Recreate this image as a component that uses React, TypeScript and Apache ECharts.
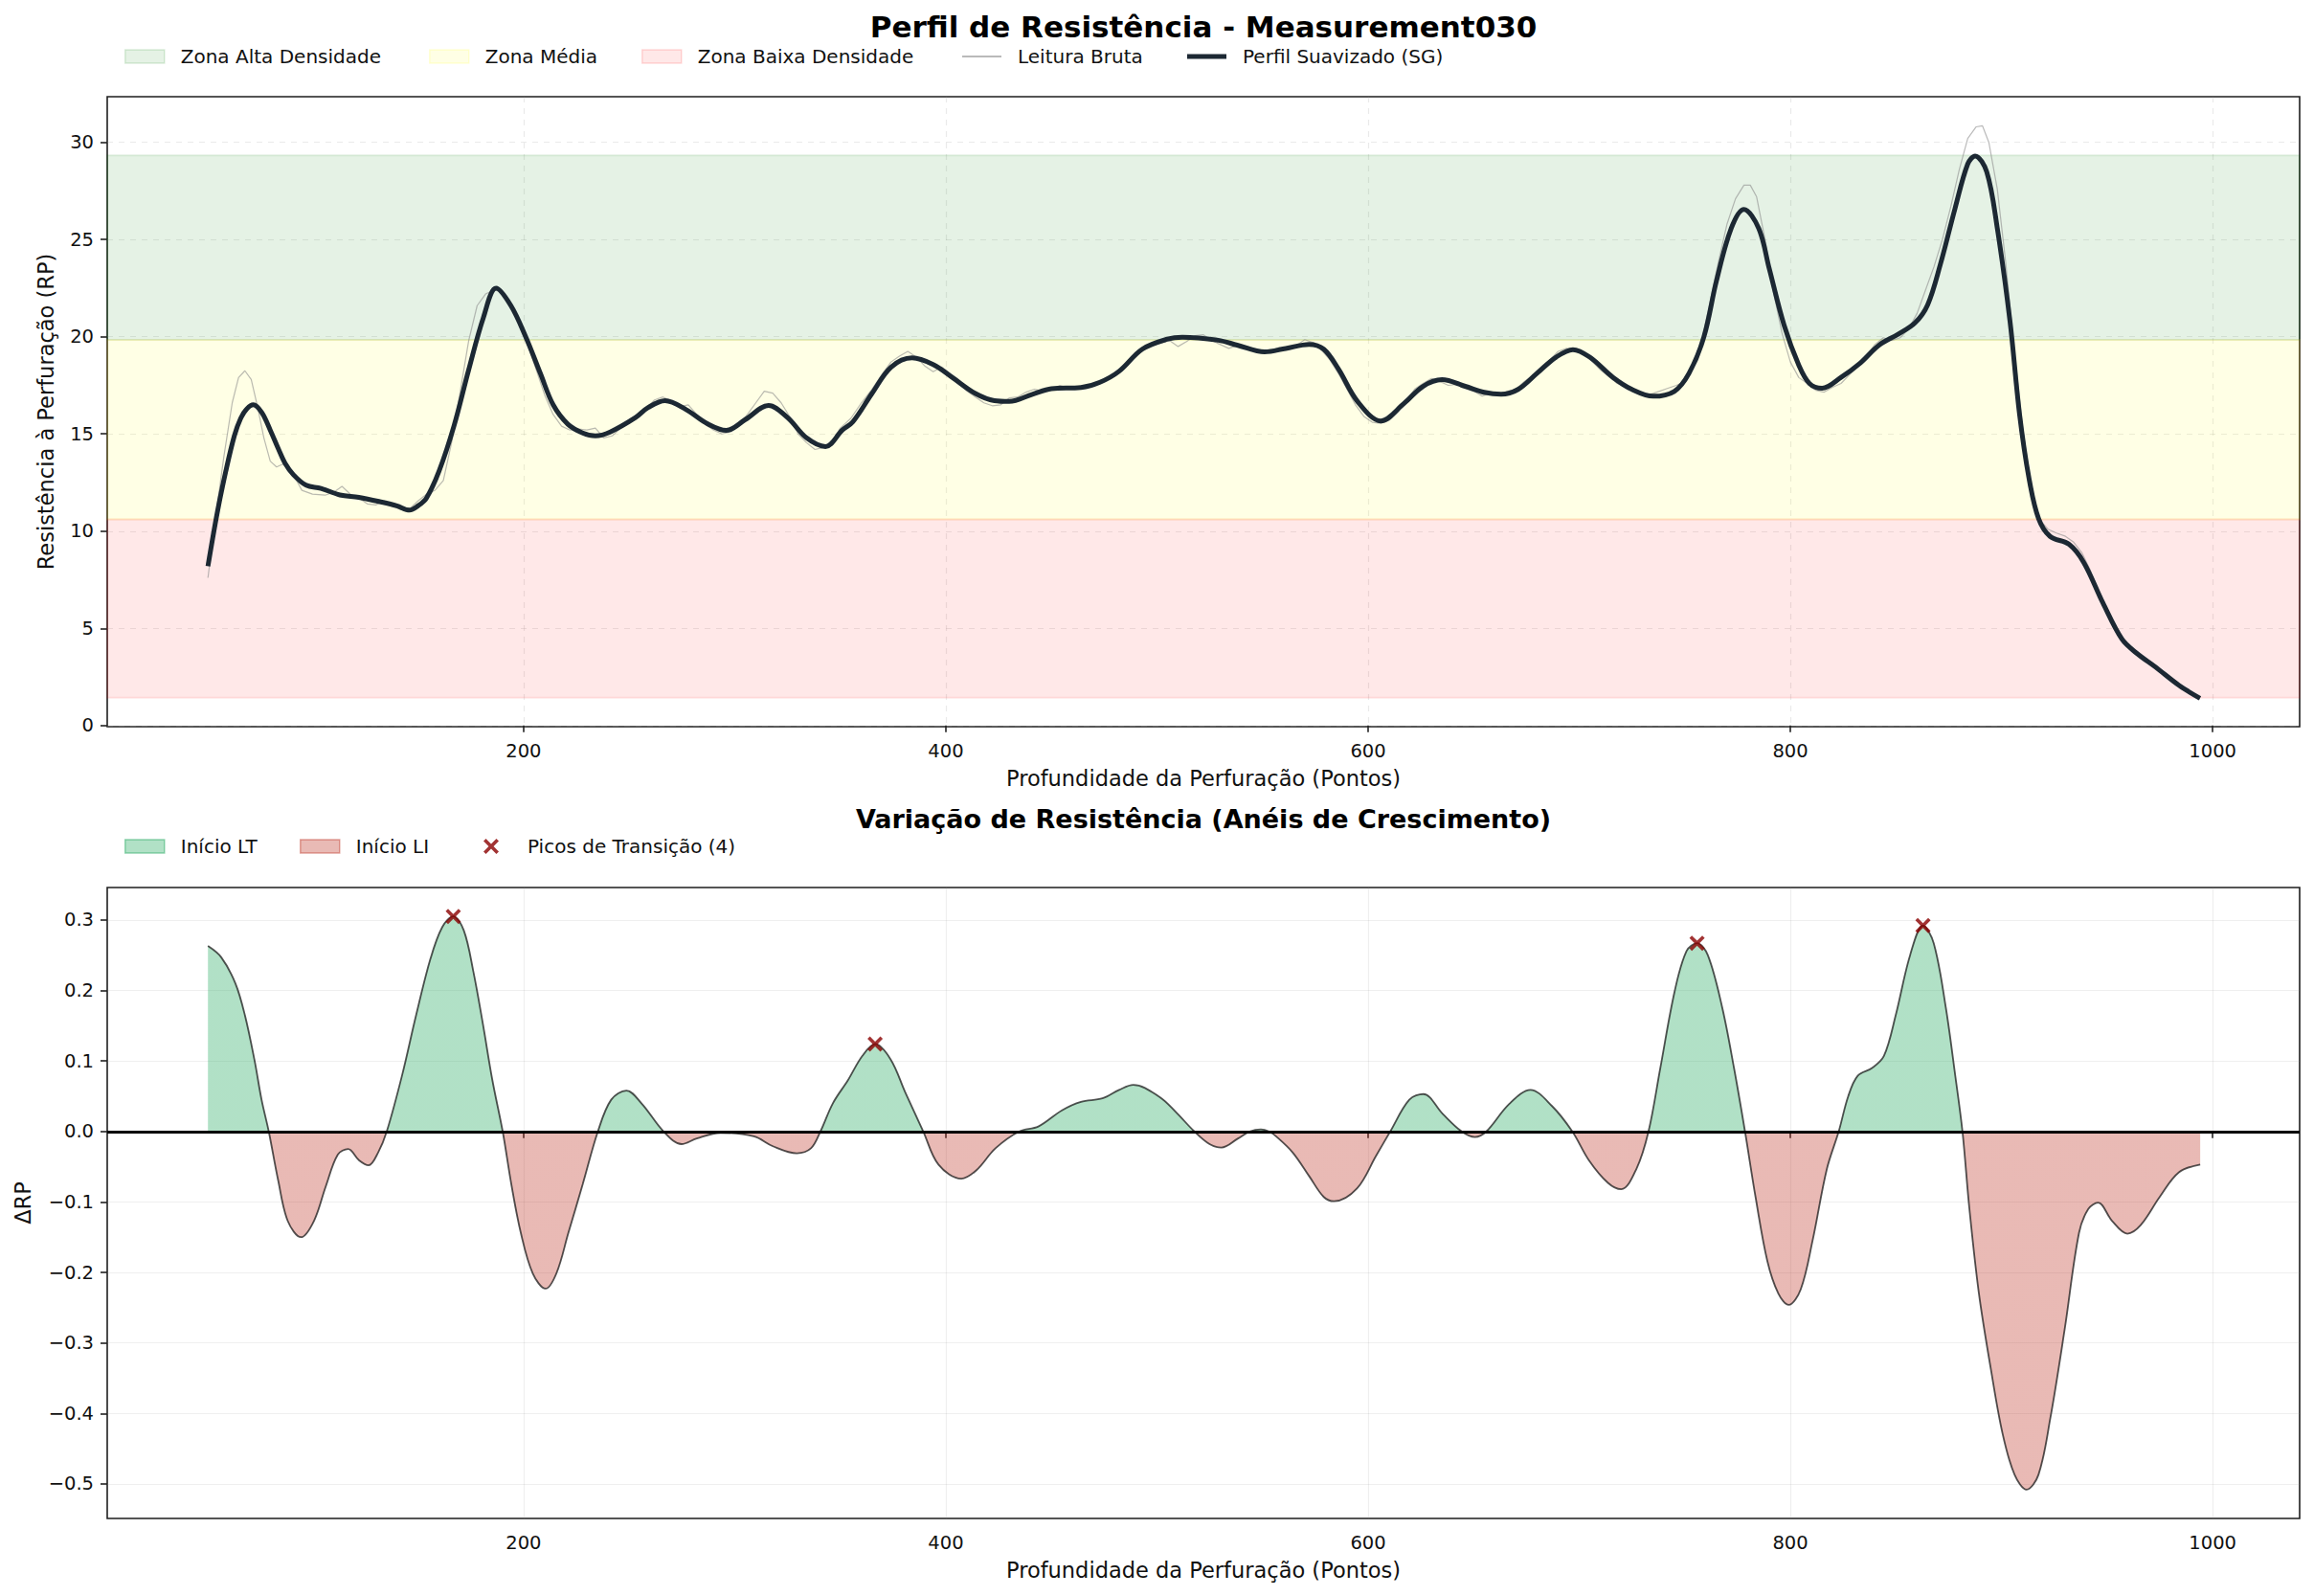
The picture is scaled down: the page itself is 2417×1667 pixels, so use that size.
import React, { useEffect, useRef } from "react";
import * as echarts from "echarts";

const FONT = "DejaVu Sans";

// ---------- data ----------
const profileX = [50.5, 55, 59, 63, 66, 69, 72, 76, 80, 84, 87, 91, 97, 104, 113, 122, 133, 140, 146, 150, 154, 160, 167, 174, 181, 187, 194, 201, 208, 214, 221, 228, 234, 241, 253, 259, 267, 277, 287, 296, 305, 316, 325, 334, 343, 351, 356, 365, 374, 384, 394, 403, 414, 423, 430, 441, 450, 464, 473, 482, 493, 505, 512, 529, 538, 551, 561, 572, 579, 586, 595, 606, 617, 626, 635, 646, 655, 663, 671, 680, 689, 697, 705, 716, 725, 735, 745, 752, 759, 765, 772, 778, 785, 790, 797, 804, 809, 815, 824, 833, 842, 851, 859, 865, 871, 878, 884, 887.5, 893, 898, 904, 908.5, 913, 917.5, 923, 932, 939, 948, 957, 964, 973, 984, 994];
const profileY = [8.2, 11.0, 13.1, 14.9, 15.8, 16.3, 16.5, 16.1, 15.2, 14.2, 13.5, 12.9, 12.36, 12.2, 11.86, 11.74, 11.49, 11.3, 11.08, 11.3, 11.7, 13.1, 15.4, 18.3, 21.0, 22.5, 21.6, 20.0, 18.1, 16.5, 15.5, 15.05, 14.9, 15.1, 15.84, 16.36, 16.71, 16.25, 15.53, 15.18, 15.74, 16.46, 15.84, 14.8, 14.35, 15.2, 15.63, 17.08, 18.43, 18.91, 18.57, 17.91, 17.08, 16.71, 16.67, 17.04, 17.33, 17.39, 17.66, 18.22, 19.36, 19.88, 19.98, 19.82, 19.57, 19.22, 19.4, 19.61, 19.36, 18.33, 16.67, 15.67, 16.57, 17.45, 17.79, 17.45, 17.14, 17.04, 17.29, 18.12, 18.95, 19.34, 18.95, 17.91, 17.29, 16.94, 17.19, 18.12, 19.98, 22.88, 25.58, 26.55, 25.58, 23.5, 20.6, 18.53, 17.6, 17.35, 17.91, 18.64, 19.57, 20.13, 20.71, 21.64, 23.71, 26.61, 28.89, 29.3, 28.48, 25.58, 20.81, 16.05, 12.73, 10.66, 9.73, 9.32, 8.38, 6.31, 4.45, 3.72, 3.0, 2.07, 1.4];

const rawX = [50.5, 54, 58, 62, 65, 68, 71, 74, 77, 80, 83, 86, 89, 92, 95, 100, 106, 110, 114, 118, 122, 126, 130, 134, 138, 142, 146, 150, 154, 158, 162, 166, 170, 174, 178, 182, 186, 190, 194, 198, 202, 206, 210, 214, 218, 222, 226, 230, 234, 238, 242, 246, 250, 254, 258, 262, 266, 270, 274, 278, 282, 286, 290, 294, 298, 302, 306, 310, 314, 318, 322, 326, 330, 334, 338, 342, 346, 350, 355, 360, 365, 370, 374, 378, 382, 386, 390, 394, 398, 402, 406, 410, 414, 418, 422, 426, 430, 434, 438, 442, 446, 450, 454, 458, 462, 466, 470, 474, 478, 482, 486, 490, 494, 498, 502, 506, 510, 514, 518, 522, 526, 530, 534, 538, 542, 546, 550, 554, 558, 562, 566, 570, 574, 578, 582, 586, 590, 594, 598, 602, 606, 610, 614, 618, 622, 626, 630, 634, 638, 642, 646, 650, 654, 658, 662, 666, 670, 674, 678, 682, 686, 690, 694, 698, 702, 706, 710, 714, 718, 722, 726, 730, 734, 738, 742, 746, 750, 754, 758, 762, 766, 770, 774, 778, 781, 784, 788, 792, 796, 800, 804, 808, 812, 816, 820, 824, 828, 832, 836, 840, 844, 848, 852, 856, 860, 864, 868, 872, 876, 880, 884, 888, 891, 894, 898, 902, 906, 910, 914, 918, 922, 926, 930, 934, 938, 942, 946, 950, 954, 958, 962, 966, 970, 974, 978, 982, 986, 990, 994];
const rawY = [7.6, 10.6, 13.8, 16.6, 17.9, 18.25, 17.8, 16.4, 14.8, 13.6, 13.3, 13.45, 13.2, 12.7, 12.1, 11.9, 11.85, 12.0, 12.3, 11.9, 11.7, 11.4, 11.35, 11.55, 11.3, 11.1, 11.15, 11.55, 11.9, 12.1, 12.6, 14.6, 17.2, 19.8, 21.6, 22.2, 22.4, 22.3, 21.7, 20.6, 19.6, 18.3, 17.0, 16.0, 15.4, 15.2, 15.25, 15.2, 15.3, 14.8, 14.9, 15.3, 15.6, 15.9, 16.3, 16.75, 16.9, 16.7, 16.4, 16.5, 16.0, 15.5, 15.2, 15.0, 15.1, 15.5, 16.0, 16.6, 17.2, 17.1, 16.6, 15.9, 15.0, 14.55, 14.2, 14.3, 14.6, 15.3, 15.8, 16.6, 17.3, 18.1, 18.7, 19.0, 19.25, 18.95, 18.5, 18.2, 18.45, 18.1, 17.6, 17.2, 16.9, 16.6, 16.45, 16.5, 16.85, 16.9, 17.15, 17.3, 17.2, 17.3, 17.5, 17.35, 17.4, 17.4, 17.5, 17.7, 17.9, 18.3, 18.7, 19.2, 19.45, 19.55, 19.7, 19.8, 19.5, 19.75, 20.05, 20.1, 19.8, 19.6, 19.4, 19.55, 19.45, 19.3, 19.15, 19.3, 19.45, 19.35, 19.55, 19.85, 19.7, 19.3, 18.8, 18.1, 17.3, 16.5, 15.9, 15.6, 15.55, 15.7, 16.2, 16.7, 17.3, 17.6, 17.85, 17.7, 17.5, 17.55, 17.35, 17.2, 16.95, 17.1, 17.05, 17.2, 17.3, 17.7, 18.0, 18.4, 18.8, 19.25, 19.4, 19.3, 19.1, 18.75, 18.3, 17.95, 17.6, 17.4, 17.2, 17.05, 17.05, 17.2, 17.35, 17.5, 17.7, 18.4, 19.8, 21.8, 23.9, 25.8, 27.1, 27.8, 27.8, 27.2, 25.0, 22.3, 20.2, 18.7, 17.9, 17.6, 17.25, 17.15, 17.4, 17.6, 18.05, 18.5, 19.0, 19.6, 19.95, 19.8, 19.95, 20.4, 21.2, 22.4, 23.6, 25.0, 26.7, 28.6, 30.2, 30.8, 30.85, 30.0, 27.6, 23.8, 19.3, 15.3, 12.3, 10.6, 10.1, 9.9, 9.75, 9.45, 8.9, 8.0, 6.9, 5.9, 5.0, 4.3, 3.85, 3.55, 3.3, 3.05, 2.6, 2.25, 1.95, 1.65, 1.35];

const deltaX = [50.5, 56.8, 63.5, 68, 72.5, 75.9, 79.3, 83.8, 88.3, 94.6, 100.7, 106.3, 112, 116.9, 122.1, 126.6, 131.1, 135.2, 142.4, 149.1, 155.9, 161.5, 166.7, 171.7, 176.2, 180.7, 185.2, 190.1, 194.2, 198.7, 204.3, 210.4, 215.6, 221.2, 228, 235.2, 241.5, 248.7, 256.1, 266.3, 274.8, 282, 293.3, 309.1, 318.1, 329.4, 336.1, 340.6, 346.5, 353.7, 360.4, 366.5, 373.9, 380.7, 389.3, 396.5, 407.3, 414.5, 423.5, 434.8, 443.8, 455, 464, 474.2, 482.1, 488.8, 501.2, 509.1, 517.7, 524.9, 530.5, 538.4, 544, 549.2, 553, 556.4, 564.3, 572.2, 579, 583.9, 594.7, 603.7, 610.5, 619.5, 626.2, 635.3, 644.3, 650.6, 656, 666.8, 676.9, 687.1, 696.7, 704.6, 713.6, 719.9, 727.1, 732.8, 738.4, 745.2, 750.8, 755.8, 760.9, 767.7, 773.3, 778.5, 783.5, 789.1, 794.3, 799.2, 804.9, 810.5, 817.3, 822.9, 827.4, 831.9, 838.7, 844.3, 849.9, 856.7, 862.8, 867.9, 873.6, 878.1, 881.5, 884.8, 889.3, 895, 900.6, 906.2, 911.9, 917.5, 923.1, 929.9, 936.7, 941.1, 945.7, 952.4, 959.6, 965.9, 974.9, 984, 994.1];
const deltaY = [0.263, 0.247, 0.21, 0.165, 0.102, 0.045, 0, -0.07, -0.127, -0.15, -0.127, -0.078, -0.033, -0.025, -0.041, -0.048, -0.03, 0, 0.079, 0.165, 0.245, 0.29, 0.305, 0.285, 0.227, 0.153, 0.073, 0, -0.075, -0.144, -0.201, -0.223, -0.201, -0.144, -0.075, 0, 0.045, 0.058, 0.039, 0, -0.018, -0.01, -0.002, -0.007, -0.021, -0.031, -0.024, 0, 0.04, 0.073, 0.107, 0.124, 0.102, 0.056, 0, -0.047, -0.067, -0.055, -0.024, 0, 0.007, 0.03, 0.042, 0.047, 0.059, 0.066, 0.049, 0.027, 0, -0.018, -0.023, -0.01, 0, 0.003, 0, -0.007, -0.03, -0.064, -0.093, -0.099, -0.081, -0.035, 0, 0.045, 0.053, 0.025, 0, -0.008, 0, 0.039, 0.059, 0.036, 0, -0.041, -0.073, -0.082, -0.053, 0, 0.09, 0.199, 0.256, 0.267, 0.25, 0.176, 0.09, 0, -0.093, -0.184, -0.23, -0.246, -0.224, -0.155, -0.053, 0, 0.05, 0.079, 0.09, 0.107, 0.165, 0.25, 0.292, 0.267, 0.176, 0.079, 0, -0.11, -0.23, -0.338, -0.43, -0.487, -0.508, -0.487, -0.407, -0.281, -0.144, -0.11, -0.101, -0.127, -0.145, -0.133, -0.093, -0.058, -0.047];

const peakX = [166.7, 366.5, 755.8, 862.8];
const peakY = [0.305, 0.124, 0.267, 0.292];

const zoneHigh = [19.84, 29.33];
const zoneMid = [10.6, 19.84];
const zoneLow = [1.43, 10.6];

const xTicks = [200, 400, 600, 800, 1000];
const yTicksTop = [0, 5, 10, 15, 20, 25, 30];
const yTicksBottom = [-0.5, -0.4, -0.3, -0.2, -0.1, 0, 0.1, 0.2, 0.3];

// ---------- helpers ----------
const zip = (xs: number[], ys: number[]) => xs.map((x, i) => [x, ys[i]]);
const X_PATH =
  "path://M1.6,0 L5,3.4 L8.4,0 L10,1.6 L6.6,5 L10,8.4 L8.4,10 L5,6.6 L1.6,10 L0,8.4 L3.4,5 L0,1.6 Z";

const GREEN_BAND = "rgba(0,128,0,0.1)";
const YELLOW_BAND = "rgba(255,255,0,0.1)";
const RED_BAND = "rgba(255,0,0,0.09)";
const POS_FILL = "rgba(60,179,113,0.4)";
const NEG_FILL = "rgba(192,57,43,0.35)";
const RAW_COLOR = "rgba(140,140,140,0.6)";
const SMOOTH_COLOR = "#1c2833";

const labelStyle = { fontSize: 19.5, color: "#111", fontFamily: FONT };
const tickStyle = { show: true, length: 7, lineStyle: { color: "#222", width: 1.6 } };

function legendItem(name: string, left: number, top: number, data: any, opts: any = {}) {
  return {
    left,
    top,
    padding: 0,
    itemWidth: 41,
    itemHeight: 14,
    selectedMode: false,
    textStyle: { fontSize: 20, color: "#111", fontFamily: FONT, padding: [0, 0, 0, 12] },
    data: [{ name, ...data }],
    ...opts,
  };
}

function xAxisFor(grid: number, split: any) {
  return {
    gridIndex: grid,
    type: "value",
    min: 2.8,
    max: 1041.2,
    axisLine: { show: false },
    axisTick: { ...tickStyle, customValues: xTicks },
    axisLabel: { ...labelStyle, margin: 15, customValues: xTicks, formatter: (v: number) => String(Math.round(v)) },
    splitLine: split,
    name: "Profundidade da Perfuração (Pontos)",
    nameLocation: "middle",
    nameGap: 42,
    nameTextStyle: { fontSize: 22.5, color: "#111", fontFamily: FONT },
  };
}

const topSplit = { show: true, lineStyle: { color: "rgba(150,150,150,0.2)", width: 1.2, type: [6, 6] } };
const bottomSplit = { show: true, lineStyle: { color: "rgba(150,150,150,0.15)", width: 1.2, type: "solid" } };

export default function App() {
  const ref = useRef<HTMLDivElement>(null);

  useEffect(() => {
    if (!ref.current) return;
    const chart = echarts.init(ref.current, null, { renderer: "svg" });

    const series: any[] = [
      // legend-only entries for the density zones
      { name: "Zona Alta Densidade", type: "line", xAxisIndex: 0, yAxisIndex: 0, data: [], symbol: "none", itemStyle: { color: GREEN_BAND } },
      { name: "Zona Média", type: "line", xAxisIndex: 0, yAxisIndex: 0, data: [], symbol: "none", itemStyle: { color: YELLOW_BAND } },
      { name: "Zona Baixa Densidade", type: "line", xAxisIndex: 0, yAxisIndex: 0, data: [], symbol: "none", itemStyle: { color: RED_BAND } },
      {
        name: "Leitura Bruta",
        type: "line",
        xAxisIndex: 0,
        yAxisIndex: 0,
        data: zip(rawX, rawY),
        symbol: "none",
        z: 3,
        silent: true,
        itemStyle: { color: RAW_COLOR },
        lineStyle: { color: RAW_COLOR, width: 1.2 },
        markArea: {
          silent: true,
          z: 1,
          data: [
            [{ yAxis: zoneHigh[0], itemStyle: { color: GREEN_BAND, borderColor: GREEN_BAND, borderWidth: 2 } }, { yAxis: zoneHigh[1] }],
            [{ yAxis: zoneMid[0], itemStyle: { color: YELLOW_BAND, borderColor: "rgba(255,200,0,0.12)", borderWidth: 2 } }, { yAxis: zoneMid[1] }],
            [{ yAxis: zoneLow[0], itemStyle: { color: RED_BAND, borderColor: RED_BAND, borderWidth: 2 } }, { yAxis: zoneLow[1] }],
          ],
        },
      },
      {
        name: "Perfil Suavizado (SG)",
        type: "line",
        xAxisIndex: 0,
        yAxisIndex: 0,
        data: zip(profileX, profileY),
        symbol: "none",
        smooth: 0.35,
        z: 4,
        silent: true,
        itemStyle: { color: SMOOTH_COLOR },
        lineStyle: { color: SMOOTH_COLOR, width: 5 },
      },
      // bottom chart
      {
        name: "deltaArea",
        type: "line",
        xAxisIndex: 1,
        yAxisIndex: 1,
        data: zip(deltaX, deltaY),
        symbol: "none",
        smooth: 0.35,
        z: 2,
        silent: true,
        lineStyle: { width: 0, opacity: 0 },
        areaStyle: { opacity: 1 },
      },
      { name: "Início LT", type: "line", xAxisIndex: 1, yAxisIndex: 1, data: [], symbol: "none", itemStyle: { color: POS_FILL } },
      { name: "Início LI", type: "line", xAxisIndex: 1, yAxisIndex: 1, data: [], symbol: "none", itemStyle: { color: NEG_FILL } },
      {
        name: "ΔRP",
        type: "line",
        xAxisIndex: 1,
        yAxisIndex: 1,
        data: zip(deltaX, deltaY),
        symbol: "none",
        smooth: 0.35,
        z: 4,
        silent: true,
        lineStyle: { color: "rgba(25,25,25,0.75)", width: 1.8 },
        markLine: {
          silent: true,
          symbol: "none",
          label: { show: false },
          lineStyle: { color: "#000", width: 2.8, type: "solid" },
          data: [{ yAxis: 0 }],
        },
      },
      {
        name: "Picos de Transição (4)",
        type: "scatter",
        xAxisIndex: 1,
        yAxisIndex: 1,
        data: zip(peakX, peakY),
        symbol: X_PATH,
        symbolSize: 16,
        z: 6,
        silent: true,
        itemStyle: { color: "#8b0000" },
      },
    ];
    const areaIdx = series.findIndex((s) => s.name === "deltaArea");

    const option: any = {
      animation: false,
      backgroundColor: "#ffffff",
      textStyle: { fontFamily: FONT },
      title: [
        {
          text: "Perfil de Resistência - Measurement030",
          left: 1257,
          top: 12,
          textAlign: "center",
          padding: 0,
          textStyle: { fontSize: 31, fontWeight: "bold", color: "#000", fontFamily: FONT },
        },
        {
          text: "Variação de Resistência (Anéis de Crescimento)",
          left: 1257,
          top: 842,
          textAlign: "center",
          padding: 0,
          textStyle: { fontSize: 27, fontWeight: "bold", color: "#000", fontFamily: FONT },
        },
      ],
      legend: [
        legendItem("Zona Alta Densidade", 130, 49, {
          icon: "rect",
          itemStyle: { color: GREEN_BAND, borderColor: "rgba(0,128,0,0.14)", borderWidth: 1.5 },
        }),
        legendItem("Zona Média", 448, 49, {
          icon: "rect",
          itemStyle: { color: YELLOW_BAND, borderColor: "rgba(255,255,0,0.14)", borderWidth: 1.5 },
        }),
        legendItem("Zona Baixa Densidade", 670, 49, {
          icon: "rect",
          itemStyle: { color: RED_BAND, borderColor: "rgba(255,0,0,0.14)", borderWidth: 1.5 },
        }),
        legendItem(
          "Leitura Bruta",
          1005,
          49,
          { icon: "rect", itemStyle: { color: "rgba(140,140,140,0.6)", borderWidth: 0 } },
          { itemHeight: 2 }
        ),
        legendItem(
          "Perfil Suavizado (SG)",
          1240,
          49,
          { icon: "rect", itemStyle: { color: SMOOTH_COLOR, borderWidth: 0 } },
          { itemHeight: 5 }
        ),
        legendItem("Início LT", 130, 874, {
          icon: "rect",
          itemStyle: { color: POS_FILL, borderColor: "rgba(60,179,113,0.55)", borderWidth: 1.5 },
        }),
        legendItem("Início LI", 313, 874, {
          icon: "rect",
          itemStyle: { color: NEG_FILL, borderColor: "rgba(192,57,43,0.45)", borderWidth: 1.5 },
        }),
        legendItem(
          "Picos de Transição (4)",
          505,
          874,
          { icon: X_PATH, itemStyle: { color: "#8b0000" } },
          {
            itemWidth: 16,
            itemHeight: 16,
            textStyle: { fontSize: 20, color: "#111", fontFamily: FONT, padding: [0, 0, 0, 25] },
          }
        ),
      ],
      grid: [
        { left: 112, top: 101, width: 2290, height: 658, show: true, borderColor: "#1e1e1e", borderWidth: 1.6, backgroundColor: "transparent" },
        { left: 112, top: 927, width: 2290, height: 659, show: true, borderColor: "#1e1e1e", borderWidth: 1.6, backgroundColor: "transparent" },
      ],
      xAxis: [xAxisFor(0, topSplit), xAxisFor(1, bottomSplit)],
      yAxis: [
        {
          gridIndex: 0,
          type: "value",
          min: -0.06,
          max: 32.35,
          axisLine: { show: false },
          axisTick: { ...tickStyle, customValues: yTicksTop },
          axisLabel: { ...labelStyle, margin: 14, customValues: yTicksTop },
          splitLine: topSplit,
          name: "Resistência à Perfuração (RP)",
          nameLocation: "middle",
          nameGap: 53,
          nameTextStyle: { fontSize: 22.5, color: "#111", fontFamily: FONT },
        },
        {
          gridIndex: 1,
          type: "value",
          min: -0.549,
          max: 0.346,
          axisLine: { show: false },
          axisTick: { ...tickStyle, customValues: yTicksBottom },
          axisLabel: {
            ...labelStyle,
            margin: 14,
            customValues: yTicksBottom,
            formatter: (v: number) => (v < -1e-9 ? "\u2212" + Math.abs(v).toFixed(1) : Math.abs(v).toFixed(1)),
          },
          splitLine: bottomSplit,
          name: "ΔRP",
          nameLocation: "middle",
          nameGap: 77,
          nameTextStyle: { fontSize: 22.5, color: "#111", fontFamily: FONT },
        },
      ],
      visualMap: [
        {
          type: "piecewise",
          show: false,
          seriesIndex: areaIdx,
          dimension: 1,
          pieces: [
            { gte: -10, lt: 0, color: NEG_FILL },
            { gte: 0, lte: 10, color: POS_FILL },
          ],
          outOfRange: { color: POS_FILL },
        },
      ],
      series,
    };

    chart.setOption(option);
    return () => chart.dispose();
  }, []);

  return (
    <div
      ref={ref}
      style={{ position: "fixed", left: 0, top: 0, width: 2417, height: 1667, background: "#fff" }}
    />
  );
}
